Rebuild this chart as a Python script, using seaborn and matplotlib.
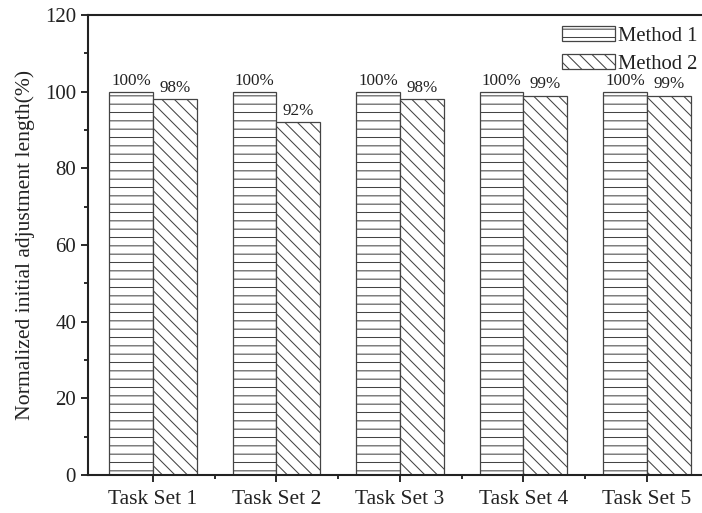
import matplotlib
matplotlib.use("Agg")
import matplotlib.pyplot as plt
from matplotlib.ticker import MultipleLocator, FixedLocator
import seaborn as sns
import pandas as pd

# Chart data
categories = ["Task Set 1", "Task Set 2", "Task Set 3", "Task Set 4", "Task Set 5"]
methods = ["Method 1", "Method 2"]
method1_values = [100, 100, 100, 100, 100]
method2_values = [98, 92, 98, 99, 99]
y_ticks = [0, 20, 40, 60, 80, 100, 120]

df = pd.DataFrame({
    "task": categories * 2,
    "method": [methods[0]] * len(categories) + [methods[1]] * len(categories),
    "value": method1_values + method2_values,
})

sns.set_theme(style="white")
plt.rcParams["font.family"] = ["Liberation Serif", "DejaVu Serif"]
plt.rcParams["hatch.linewidth"] = 0.5
plt.rcParams["hatch.color"] = "#555555"

DPI = 150
fig = plt.figure(figsize=(702 / DPI, 513 / DPI), dpi=DPI)
ax = fig.add_axes([88 / 702, 38 / 513, 614 / 702, 460 / 513])

sns.barplot(data=df, x="task", y="value", hue="method", order=categories,
            hue_order=methods, width=0.71, gap=0,
            palette=["white", "white"], edgecolor="#444444", linewidth=0.6,
            ax=ax, legend=True)

BACKSLASH = chr(92)
hatches = {methods[0]: "---", methods[1]: BACKSLASH * 4}
for container, m in zip(ax.containers, methods):
    for bar in container:
        bar.set_hatch(hatches[m])
    labels = [f"{v:.0f}%" for v in container.datavalues]
    ax.bar_label(container, labels=labels, padding=1.5, fontsize=8.2,
                 color="#222222")

ax.set_xlim(-0.526, 4.446)
ax.set_ylim(0, 120)
ax.yaxis.set_major_locator(FixedLocator(y_ticks))
ax.yaxis.set_minor_locator(MultipleLocator(10))
ax.xaxis.set_minor_locator(FixedLocator([i + 0.5 for i in range(len(categories) - 1)]))

for side in ["left", "bottom", "top"]:
    ax.spines[side].set_visible(True)
    ax.spines[side].set_color("#222222")
    ax.spines[side].set_linewidth(1.0)
ax.spines["right"].set_visible(False)

ax.tick_params(axis="both", which="major", direction="out", length=3.2,
               width=0.9, color="#222222", labelsize=10.0, labelcolor="#222222")
ax.tick_params(axis="both", which="minor", direction="out", length=2.0,
               width=0.9, color="#222222")
ax.tick_params(axis="x", which="both", bottom=True, top=False, pad=4,
               labelsize=10.3)
ax.tick_params(axis="y", which="both", left=True, right=False, pad=2.5)

ax.set_xlabel("")
ax.set_ylabel("Normalized initial adjustment length(%)", fontsize=10.4,
              color="#222222", labelpad=5)

leg = ax.legend(loc="upper right", bbox_to_anchor=(1.0, 0.985), frameon=False,
                fontsize=9.9, handlelength=2.6, handleheight=0.75,
                handletextpad=0.15, labelspacing=0.4, borderpad=0.2,
                borderaxespad=0.0)
for h, m in zip(leg.legend_handles, methods):
    h.set_hatch(hatches[m])
    h.set_edgecolor("#444444")
    h.set_facecolor("white")
for t in leg.get_texts():
    t.set_color("#222222")

fig.savefig("out.png", dpi=DPI)
